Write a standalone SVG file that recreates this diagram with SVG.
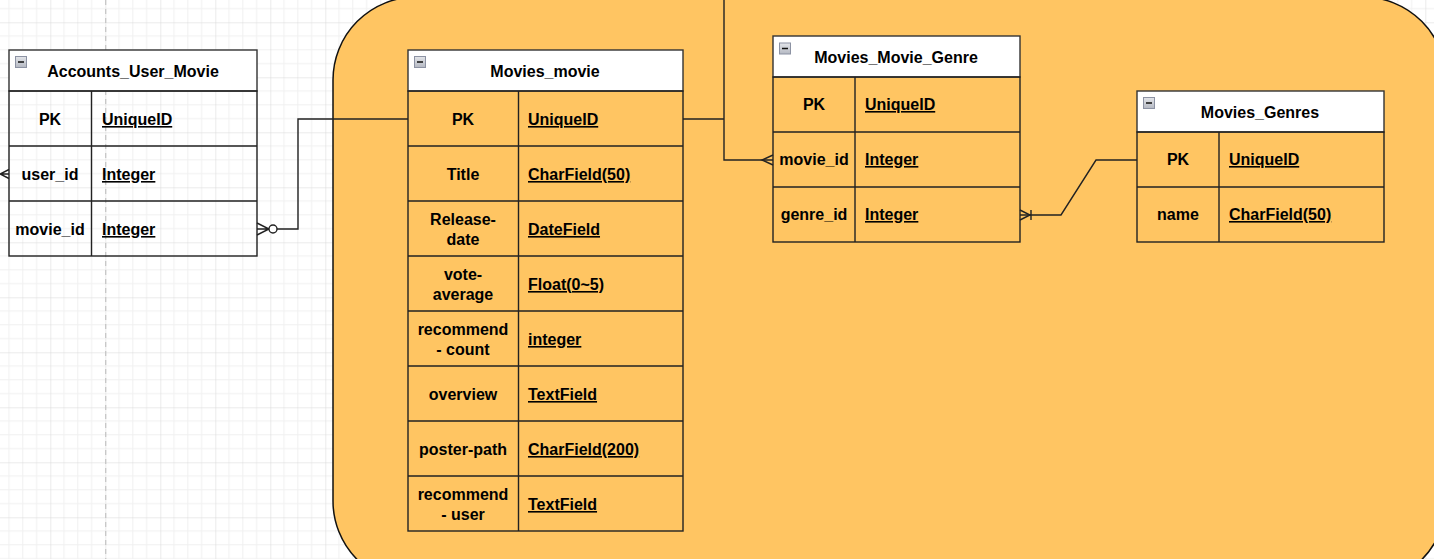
<svg xmlns="http://www.w3.org/2000/svg" width="1434" height="559" viewBox="0 0 1434 559">
<defs>
<pattern id="grid" patternUnits="userSpaceOnUse" x="50.3" y="22.3" width="55" height="55">
<path d="M13.75 0V55M27.5 0V55M41.25 0V55M0 13.75H55M0 27.5H55M0 41.25H55" stroke="#f0f0f0" stroke-width="1" fill="none"/>
<path d="M0 0V55M0 0H55" stroke="#d8d8d8" stroke-width="1" fill="none"/>
</pattern>
<linearGradient id="ig" x1="0" y1="0" x2="0" y2="1">
<stop offset="0" stop-color="#e4e6ea"/>
<stop offset="1" stop-color="#b4b8c2"/>
</linearGradient>
<g id="icon">
<rect x="0.5" y="0.5" width="11" height="11" fill="url(#ig)" stroke="#8c92a3" stroke-width="1"/>
<path d="M3 6H9" stroke="#111" stroke-width="1.5"/>
</g>
</defs>
<style>
.t{font-family:"Liberation Sans",Arial,sans-serif;font-size:16px;font-weight:bold;fill:#000}
.c{text-anchor:middle}
.u{text-decoration:underline}
.hd{fill:#fff;stroke:#333;stroke-width:1.4}
.bx{fill:none;stroke:#222;stroke-width:1.4}
.ln{stroke:#222;stroke-width:1.4;fill:none}
.cn{stroke:#222;stroke-width:1.4;fill:none}
</style>
<rect width="1434" height="559" fill="#fff"/>
<rect width="1434" height="559" fill="url(#grid)"/>
<path d="M105.7 0V559" stroke="#c4c4c4" stroke-width="1.2" stroke-dasharray="5 4"/>
<rect id="container" x="333" y="-3" width="1113" height="587" rx="83" ry="83" fill="#ffc562" stroke="#111" stroke-width="1.5"/>

<g id="connectors">
<path class="cn" d="M277 229H298V119H408"/>
<path class="cn" d="M257 229H269M257 223L269 229L257 235"/>
<circle cx="273" cy="229" r="4" fill="#fff" stroke="#222" stroke-width="1.4"/>
<path class="cn" d="M683 119H724M724 0V160H773"/>
<path class="cn" d="M773 155L762 160L773 165"/>
<path class="cn" d="M1020 215H1061L1096 160H1137"/>
<path class="cn" d="M1020 210L1030 215L1020 220M1031 210V220"/>
<path class="cn" d="M0 174H9M9 169.5L0 174L9 178.5"/>
</g>

<g id="accounts_user_movie">
<rect class="hd" x="9" y="50" width="248" height="41"/>
<use href="#icon" x="15" y="56"/>
<text class="t c" x="133" y="77">Accounts_User_Movie</text>
<rect class="bx" x="9" y="91" width="248" height="165"/>
<path class="ln" d="M9 146H257M9 201H257M91.5 91V256"/>
<text class="t c" x="50" y="125">PK</text>
<text class="t u" x="102" y="125">UniqueID</text>
<text class="t c" x="50" y="180">user_id</text>
<text class="t u" x="102" y="180">Integer</text>
<text class="t c" x="50" y="235">movie_id</text>
<text class="t u" x="102" y="235">Integer</text>
</g>

<g id="movies_movie">
<rect class="hd" x="408" y="50" width="275" height="41"/>
<use href="#icon" x="414" y="56"/>
<text class="t c" x="545" y="77">Movies_movie</text>
<rect class="bx" x="408" y="91" width="275" height="440"/>
<path class="ln" d="M408 146H683M408 201H683M408 256H683M408 311H683M408 366H683M408 421H683M408 476H683M518.5 91V531"/>
<text class="t c" x="463" y="125">PK</text>
<text class="t u" x="528" y="125">UniqueID</text>
<text class="t c" x="463" y="180">Title</text>
<text class="t u" x="528" y="180">CharField(50)</text>
<text class="t c" x="463" y="225">Release-</text>
<text class="t c" x="463" y="245">date</text>
<text class="t u" x="528" y="235">DateField</text>
<text class="t c" x="463" y="280">vote-</text>
<text class="t c" x="463" y="300">average</text>
<text class="t u" x="528" y="290">Float(0~5)</text>
<text class="t c" x="463" y="335">recommend</text>
<text class="t c" x="463" y="355">- count</text>
<text class="t u" x="528" y="345">integer</text>
<text class="t c" x="463" y="400">overview</text>
<text class="t u" x="528" y="400">TextField</text>
<text class="t c" x="463" y="455">poster-path</text>
<text class="t u" x="528" y="455">CharField(200)</text>
<text class="t c" x="463" y="500">recommend</text>
<text class="t c" x="463" y="520">- user</text>
<text class="t u" x="528" y="510">TextField</text>
</g>

<g id="movies_movie_genre">
<rect class="hd" x="773" y="36" width="247" height="41"/>
<use href="#icon" x="779" y="42.5"/>
<text class="t c" x="896" y="63">Movies_Movie_Genre</text>
<rect class="bx" x="773" y="77" width="247" height="165"/>
<path class="ln" d="M773 132H1020M773 187H1020M855 77V242"/>
<text class="t c" x="814" y="110">PK</text>
<text class="t u" x="865" y="110">UniqueID</text>
<text class="t c" x="814" y="165">movie_id</text>
<text class="t u" x="865" y="165">Integer</text>
<text class="t c" x="814" y="220">genre_id</text>
<text class="t u" x="865" y="220">Integer</text>
</g>

<g id="movies_genres">
<rect class="hd" x="1137" y="91" width="247" height="41"/>
<use href="#icon" x="1143" y="97"/>
<text class="t c" x="1260" y="118">Movies_Genres</text>
<rect class="bx" x="1137" y="132" width="247" height="110"/>
<path class="ln" d="M1137 187H1384M1219 132V242"/>
<text class="t c" x="1178" y="165">PK</text>
<text class="t u" x="1229" y="165">UniqueID</text>
<text class="t c" x="1178" y="220">name</text>
<text class="t u" x="1229" y="220">CharField(50)</text>
</g>
</svg>
